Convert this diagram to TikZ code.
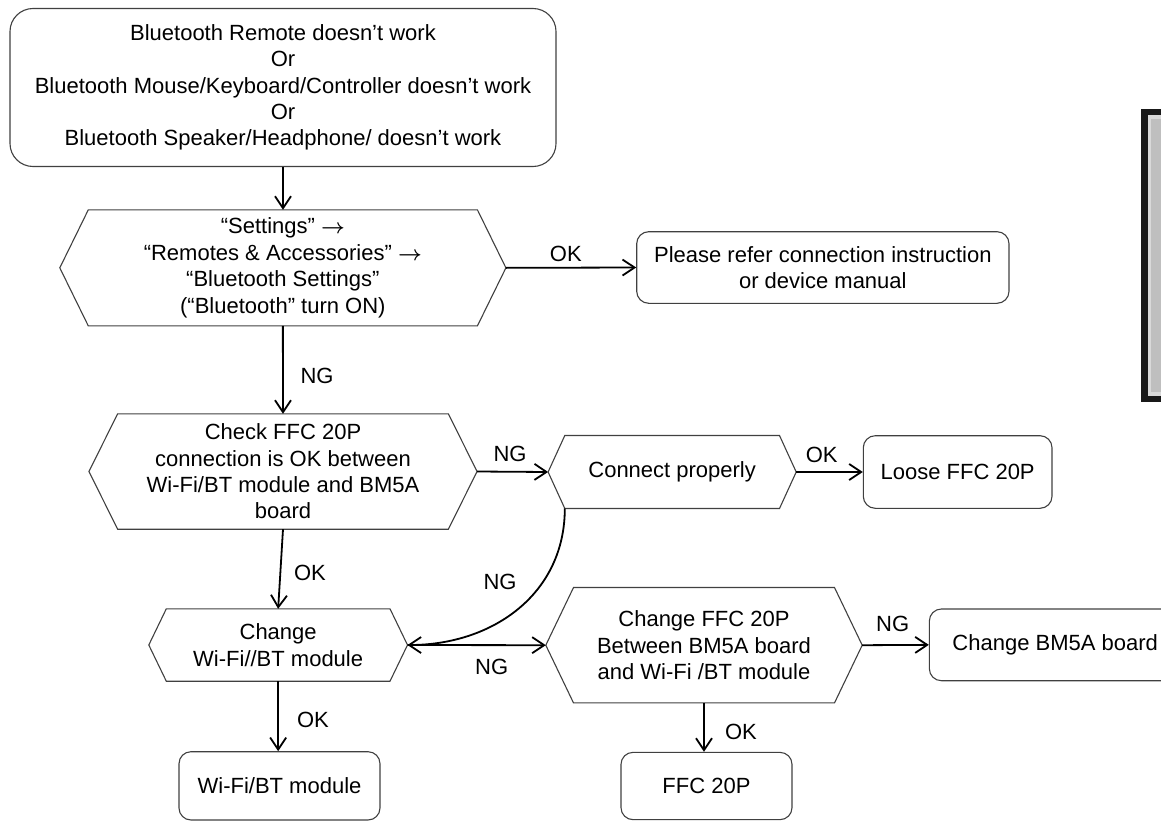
\documentclass[tikz,border=0pt]{standalone}
\usepackage{fontspec}
\setmainfont{Liberation Sans}
\usetikzlibrary{arrows.meta}
\newcommand\hexout[2]{\draw[shp] (#1.west) -- ([xshift=#2pt]#1.north west) -- ([xshift=-#2pt]#1.north east) -- (#1.east) -- ([xshift=-#2pt]#1.south east) -- ([xshift=#2pt]#1.south west) -- cycle;}
\newcommand\rarr{{\boldmath$\rightarrow$}}
\begin{document}
\begin{tikzpicture}[x=1pt,y=-1pt,
  every node/.style={font=\fontsize{22}{26.4}\selectfont, align=center, inner sep=0pt},
  rbox/.style={draw=black!75, line width=1.1pt, rounded corners=12pt},
  shp/.style={draw=black!75, line width=1.1pt, line join=miter},
  conn/.style={line width=1.8pt, -{Straight Barb[length=12pt,width=16pt]}},
  lbl/.style={inner sep=0pt}
]
\useasboundingbox (0,0) rectangle (1161,824);
\clip (0,0) rectangle (1161,824);

% stray panel at the right edge
\fill[black!90] (1141,109) rectangle (1175,402);
\fill[black!15] (1147.5,115.5) rectangle (1175,395.5);
\fill[black!25] (1151,119) rectangle (1175,392);

\node[rbox, rounded corners=23pt, minimum width=546pt, minimum height=158pt] (top) at (283,87.5)
  {Bluetooth Remote doesn’t work\\Or\\Bluetooth Mouse/Keyboard/Controller doesn’t work\\Or\\Bluetooth Speaker/Headphone/ doesn’t work};

\node[minimum width=445.7pt, minimum height=115.7pt] (h1) at (282.85,267.85)
  {“Settings” \rarr\\“Remotes \& Accessories” \rarr\\“Bluetooth Settings”\\(“Bluetooth” turn ON)};
\hexout{h1}{28.5}

\node[rbox, minimum width=372.3pt, minimum height=71.6pt] (ok1) at (822.85,267.5)
  {Please refer connection instruction\\or device manual};

\node[minimum width=387.7pt, minimum height=115pt] (h2) at (283,471.5)
  {Check FFC 20P\\connection is OK between\\Wi-Fi/BT module and BM5A\\board};
\hexout{h2}{28.7}

\node[minimum width=247.7pt, minimum height=72.6pt] (cp) at (672.15,472) {Connect properly};
\hexout{cp}{16.7}

\node[rbox, minimum width=188.7pt, minimum height=72.6pt] (loose) at (957.65,472) {Loose FFC 20P};

\node[minimum width=258.3pt, minimum height=72pt] (h3) at (278.15,645)
  {Change\\Wi-Fi//BT module};
\hexout{h3}{17.5}

\node[minimum width=316pt, minimum height=115pt] (ffc) at (704,645.2)
  {Change FFC 20P\\Between BM5A board\\and Wi-Fi /BT module};
\hexout{ffc}{27.7}

\node[rbox, minimum width=251.7pt, minimum height=71.7pt] (bm) at (1055.2,644.85) {Change BM5A board};

\node[rbox, minimum width=201pt, minimum height=68.3pt] (wifi) at (279.5,785.85) {Wi-Fi/BT module};

\node[rbox, minimum width=171pt, minimum height=67.3pt] (ffc20) at (706.5,786) {FFC 20P};

% connectors
\draw[conn] (top.south) -- (top.south |- h1.north);
\draw[conn] (h1.east) -- (ok1.west);
\draw[conn] (h1.south) -- (h2.north);
\draw[conn] (h2.east) -- (cp.west);
\draw[conn] (cp.east) -- (loose.west);
\draw[conn] (h2.south) -- (h3.north);
\draw[conn] ([xshift=16.7pt]cp.south west) to[out=-90,in=0,looseness=1.05] (h3.east);
\draw[conn] (h3.east) -- (ffc.west);
\draw[conn] (ffc.east) -- (bm.west);
\draw[conn] (h3.south) -- (h3.south |- wifi.north);
\draw[conn] (ffc.south) -- (ffc.south |- ffc20.north);

% labels
\node[lbl] (l1) at (317,376) {NG};
\node[lbl] (l2) at (565.8,254) {OK};
\node[lbl] (l3) at (510,454) {NG};
\node[lbl] (l4) at (821.7,455) {OK};
\node[lbl] (l5) at (310,573.3) {OK};
\node[lbl] (l6) at (500,581.7) {NG};
\node[lbl] (l7) at (491.7,666.7) {NG};
\node[lbl] (l8) at (892.7,624) {NG};
\node[lbl] (l9) at (313,720) {OK};
\node[lbl] (l10) at (741,731.7) {OK};
\end{tikzpicture}
\end{document}
